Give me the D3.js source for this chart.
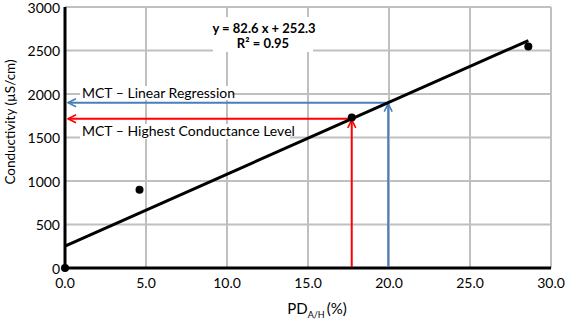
<!DOCTYPE html>
<html>
<head>
<meta charset="utf-8">
<script src="https://cdn.jsdelivr.net/npm/d3@7"></script>
<style>
  body { margin: 0; background: #fff; }
  text { font-family: Lato, "Open Sans", sans-serif; fill: #000; }
</style>
</head>
<body>
<div id="chart"></div>
<script>
// data
var pdValues = [0, 4.6, 17.7, 28.6];
var condValues = [0, 900, 1730, 2545];
var slope = 82.6, intercept = 252.3;
var fitRange = [0, 28.6];
var xTicks = [0, 5, 10, 15, 20, 25, 30];
var yTicks = [0, 500, 1000, 1500, 2000, 2500, 3000];
var mctLinear = { x: 19.95, y: 1900, label: "MCT \u2013 Linear Regression" };
var mctHighest = { x: 17.7, y: 1715, label: "MCT \u2013 Highest Conductance Level" };

var width = 568, height = 326;
var xScale = d3.scaleLinear().domain([0, 30]).range([65, 551]);
var yScale = d3.scaleLinear().domain([0, 3000]).range([268, 7]);

var svg = d3.select("#chart").append("svg")
    .attr("width", width)
    .attr("height", height);

var defs = svg.append("defs");
function marker(id, color) {
    defs.append("marker")
        .attr("id", id)
        .attr("viewBox", "0 0 10 10")
        .attr("refX", 9).attr("refY", 5)
        .attr("markerWidth", 5).attr("markerHeight", 5)
        .attr("markerUnits", "strokeWidth")
        .attr("orient", "auto")
        .append("path")
        .attr("d", "M1,1 L9,5 L1,9")
        .attr("fill", "none")
        .attr("stroke", color)
        .attr("stroke-width", 1.6);
}
marker("arrBlue", "#4a7ebb");
marker("arrRed", "#ff0000");

// grid
svg.append("g").selectAll("line")
    .data(xTicks.slice(1))
    .enter().append("line")
    .attr("x1", function(d) { return xScale(d); })
    .attr("x2", function(d) { return xScale(d); })
    .attr("y1", yScale(0)).attr("y2", yScale(3000))
    .attr("stroke", "#c0c0c0").attr("stroke-width", 2);

svg.append("g").selectAll("line")
    .data(yTicks.slice(1))
    .enter().append("line")
    .attr("x1", xScale(0)).attr("x2", xScale(30))
    .attr("y1", function(d) { return yScale(d); })
    .attr("y2", function(d) { return yScale(d); })
    .attr("stroke", "#c0c0c0").attr("stroke-width", 2);

// label boxes (white behind text)
svg.append("rect").attr("x", 213).attr("y", 17).attr("width", 100).attr("height", 35).attr("fill", "#fff");
svg.append("rect").attr("x", 80).attr("y", 86).attr("width", 152).attr("height", 14).attr("fill", "#fff");
svg.append("rect").attr("x", 80).attr("y", 124).attr("width", 210).attr("height", 15).attr("fill", "#fff");

// axes
svg.append("line")
    .attr("x1", xScale(0)).attr("x2", xScale(0))
    .attr("y1", yScale(0) + 1).attr("y2", yScale(3000))
    .attr("stroke", "#000").attr("stroke-width", 3);
svg.append("line")
    .attr("x1", xScale(0)).attr("x2", xScale(30))
    .attr("y1", yScale(0)).attr("y2", yScale(0))
    .attr("stroke", "#000").attr("stroke-width", 3);

svg.append("g").selectAll("text")
    .data(yTicks)
    .enter().append("text")
    .attr("x", 60)
    .attr("y", function(d) { return yScale(d) + 5.5; })
    .attr("text-anchor", "end")
    .attr("font-size", 14)
    .text(function(d) { return d; });

svg.append("g").selectAll("text")
    .data(xTicks)
    .enter().append("text")
    .attr("x", function(d) { return xScale(d); })
    .attr("y", 288)
    .attr("text-anchor", "middle")
    .attr("font-size", 14)
    .text(function(d) { return d3.format(".1f")(d); });

// axis titles
svg.append("text")
    .attr("transform", "translate(15,122) rotate(-90)")
    .attr("text-anchor", "middle")
    .attr("font-size", 13.5)
    .text("Conductivity (\u00b5S/cm)");

var xt = svg.append("text")
    .attr("x", 317).attr("y", 314)
    .attr("text-anchor", "middle")
    .attr("font-size", 15);
xt.append("tspan").text("PD");
xt.append("tspan").attr("font-size", 9).attr("dy", 4).text("A/H");
xt.append("tspan").attr("dy", -4).attr("dx", 2).text("(%)");

// MCT arrows
function arrows(m, color, id) {
    svg.append("line")
        .attr("x1", xScale(m.x)).attr("x2", xScale(m.x))
        .attr("y1", yScale(0) - 1).attr("y2", yScale(m.y) + 1)
        .attr("stroke", color).attr("stroke-width", 2)
        .attr("marker-end", "url(#" + id + ")");
    svg.append("line")
        .attr("x1", xScale(m.x)).attr("x2", xScale(0) + 3)
        .attr("y1", yScale(m.y)).attr("y2", yScale(m.y))
        .attr("stroke", color).attr("stroke-width", 2)
        .attr("marker-end", "url(#" + id + ")");
}
arrows(mctLinear, "#4a7ebb", "arrBlue");
arrows(mctHighest, "#ff0000", "arrRed");

// regression line
svg.append("line")
    .attr("x1", xScale(fitRange[0])).attr("y1", yScale(slope * fitRange[0] + intercept))
    .attr("x2", xScale(fitRange[1])).attr("y2", yScale(slope * fitRange[1] + intercept))
    .attr("stroke", "#000").attr("stroke-width", 3);

// points
svg.append("g").selectAll("circle")
    .data(pdValues)
    .enter().append("circle")
    .attr("cx", function(d) { return xScale(d); })
    .attr("cy", function(d, i) { return yScale(condValues[i]); })
    .attr("r", 4)
    .attr("fill", "#000");

// labels
svg.append("text").attr("x", 82).attr("y", 98).attr("font-size", 14).text(mctLinear.label);
svg.append("text").attr("x", 82).attr("y", 136).attr("font-size", 14).text(mctHighest.label);

svg.append("text").attr("x", 264).attr("y", 33).attr("text-anchor", "middle")
    .attr("font-size", 13).attr("font-weight", "bold")
    .text("y = " + slope + " x + " + intercept);
var r2 = svg.append("text").attr("x", 263).attr("y", 48).attr("text-anchor", "middle")
    .attr("font-size", 13).attr("font-weight", "bold");
r2.append("tspan").text("R\u00b2 = 0.95");
</script>
</body>
</html>
